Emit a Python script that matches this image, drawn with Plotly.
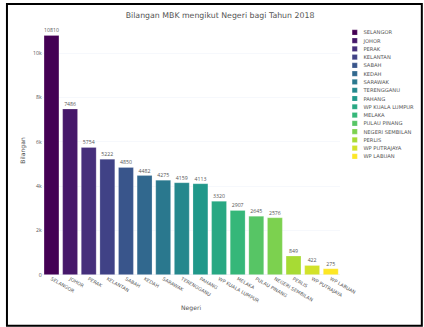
import plotly.graph_objects as go
from plotly.colors import sample_colorscale

# Data: number of MBK per state, 2018
negeri = [
    "SELANGOR", "JOHOR", "PERAK", "KELANTAN", "SABAH", "KEDAH", "SARAWAK",
    "TERENGGANU", "PAHANG", "WP KUALA LUMPUR", "MELAKA", "PULAU PINANG",
    "NEGERI SEMBILAN", "PERLIS", "WP PUTRAJAYA", "WP LABUAN",
]
bilangan = [10810, 7486, 5754, 5222, 4850, 4482, 4275, 4159, 4113,
            3320, 2907, 2645, 2576, 849, 422, 275]
y_ticks = [0, 2000, 4000, 6000, 8000, 10000]
y_tick_text = ["0", "2k", "4k", "6k", "8k", "10k"]

# Base canvas size; the page shrinks it to the 424x327 viewport
W, H = 975, 752
SCALE = 424 / W
ML, MR, MT, MB = 97, 193, 60, 120

colors = sample_colorscale("Viridis", len(negeri))

fig = go.Figure()
for name, val, col in zip(negeri, bilangan, colors):
    fig.add_trace(go.Bar(
        x=[name], y=[val], name=name, marker_color=col,
        text=[val], textposition="outside", cliponaxis=False,
        textfont=dict(family="Open Sans", size=12),
    ))

pw = W - ML - MR
ph = H - MT - MB


def px_to_paper_x(px):
    return (px - ML) / pw


def px_to_paper_y(py):
    return (H - MB - py) / ph


# Outer frame around the figure
fig.add_shape(
    type="rect", xref="paper", yref="paper",
    x0=px_to_paper_x(16), x1=px_to_paper_x(970),
    y0=px_to_paper_y(749), y1=px_to_paper_y(9),
    line=dict(color="black", width=4.6), fillcolor="rgba(0,0,0,0)",
)

fig.update_layout(
    template="plotly_white",
    width=W, height=H,
    margin=dict(l=ML, r=MR, t=MT, b=MB, autoexpand=False),
    barmode="relative",
    bargap=0.2,
    font=dict(family="DejaVu Sans", size=12, color="#555555"),
    title=dict(
        text="Bilangan MBK mengikut Negeri bagi Tahun 2018",
        x=506 / W, xref="container", xanchor="center",
        y=1 - 34 / H, yref="container", yanchor="middle",
        font=dict(size=18, color="#555555"),
    ),
    xaxis=dict(
        title=dict(text="Negeri", standoff=4), tickangle=30, showgrid=False,
        categoryorder="array", categoryarray=negeri, automargin=False,
        tickfont=dict(size=11),
    ),
    yaxis=dict(
        title=dict(text="Bilangan"), range=[0, 11231],
        tickvals=y_ticks, ticktext=y_tick_text,
        automargin=False, tickfont=dict(family="Open Sans", size=12),
    ),
    legend=dict(x=1.02, y=1, xanchor="left", yanchor="top",
                font=dict(size=12)),
)

post = f"""
var gd = document.getElementById('{{plot_id}}');
gd.style.transform = 'scale({SCALE})';
gd.style.transformOrigin = '0 0';
document.body.style.margin = '0';
document.body.style.overflow = 'hidden';
document.documentElement.style.overflow = 'hidden';
"""

fig.write_html("out.html", post_script=post)
